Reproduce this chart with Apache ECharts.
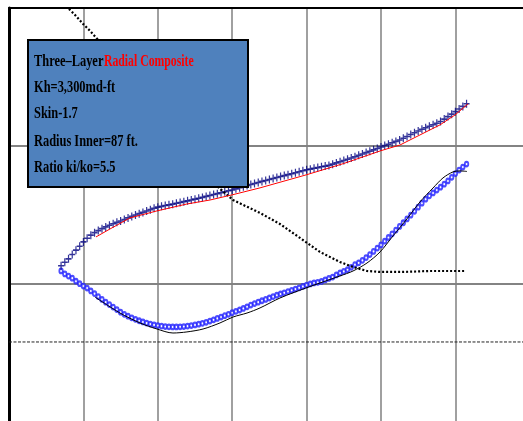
<!DOCTYPE html>
<html><head><meta charset="utf-8">
<script src="https://cdn.jsdelivr.net/npm/echarts@6/dist/echarts.min.js"></script>
<style>html,body{margin:0;padding:0;background:#fff;overflow:hidden}#c{width:523px;height:421px}</style>
</head><body><div id="c"></div>
<script>
// x positions (log cycles) shared by the two measured series
const logTime = [
  0.70,0.75,0.80,0.85,0.90,0.95,
  1.00,1.05,1.10,1.15,1.20,1.25,1.30,1.35,1.40,1.45,1.50,1.55,1.60,1.65,1.70,1.75,1.80,1.85,1.90,1.95,
  2.00,2.05,2.10,2.15,2.20,2.25,2.30,2.35,2.40,2.45,2.50,2.55,2.60,2.65,2.70,2.75,2.80,2.85,2.90,2.95,
  3.00,3.05,3.10,3.15,3.20,3.25,3.30,3.35,3.40,3.45,3.50,3.55,3.60,3.65,3.70,3.75,3.80,3.85,3.90,3.95,
  4.00,4.05,4.10,4.15,4.20,4.25,4.30,4.35,4.40,4.45,4.50,4.55,4.60,4.65,4.70,4.75,4.80,4.85,4.90,4.95,
  5.00,5.05,5.10,5.15,5.20,5.25,5.30,5.35,5.40,5.45,5.50,5.55,5.60,5.65,5.70,5.75,5.80,5.85,5.90,5.95,
  6.00,6.05,6.10,6.15
];
// measured pressure change ("+" markers)
const pressureChange = [
  1.130,1.155,1.180,1.212,1.243,1.271,
  1.303,1.330,1.352,1.370,1.385,1.399,1.412,1.424,1.435,1.445,1.455,1.466,1.477,1.488,1.498,1.508,1.517,1.527,1.537,1.547,
  1.555,1.561,1.567,1.572,1.577,1.583,1.589,1.595,1.601,1.607,1.613,1.620,1.626,1.633,1.640,1.647,1.653,1.660,1.667,1.674,
  1.680,1.688,1.696,1.704,1.712,1.719,1.727,1.734,1.742,1.749,1.756,1.763,1.770,1.777,1.784,1.791,1.798,1.805,1.812,1.819,
  1.826,1.831,1.837,1.842,1.848,1.853,1.858,1.867,1.876,1.885,1.894,1.903,1.912,1.921,1.931,1.941,1.951,1.961,1.971,1.981,
  1.992,2.002,2.012,2.022,2.032,2.042,2.055,2.068,2.082,2.095,2.108,2.120,2.131,2.142,2.153,2.164,2.176,2.194,2.212,2.230,
  2.248,2.267,2.286,2.305
];
// measured derivative ("o" markers)
const pressureDerivative = [
  1.092,1.071,1.055,1.040,1.018,1.000,
  0.983,0.968,0.947,0.928,0.906,0.886,0.866,0.848,0.830,0.812,0.793,0.778,0.764,0.752,0.741,0.731,0.722,0.714,0.707,0.701,
  0.696,0.692,0.689,0.687,0.686,0.686,0.687,0.689,0.692,0.696,0.701,0.706,0.712,0.720,0.729,0.738,0.748,0.758,0.768,0.778,
  0.789,0.799,0.809,0.820,0.832,0.845,0.856,0.866,0.876,0.886,0.896,0.906,0.916,0.925,0.934,0.943,0.952,0.961,0.970,0.980,
  0.990,0.998,1.005,1.010,1.016,1.027,1.038,1.048,1.063,1.078,1.089,1.101,1.119,1.138,1.151,1.169,1.189,1.211,1.234,1.258,
  1.281,1.308,1.335,1.362,1.389,1.415,1.442,1.470,1.497,1.525,1.555,1.584,1.613,1.637,1.658,1.679,1.700,1.722,1.745,1.772,
  1.799,1.824,1.846,1.868
];
// model pressure (red line)
const modelPressure = [
  [1.169,1.339],[1.358,1.397],[1.626,1.477],[1.989,1.528],[2.392,1.578],[2.702,1.607],[2.997,1.644],
  [3.374,1.695],[3.992,1.789],[4.500,1.872],[5.000,1.965],[5.255,2.006],[5.524,2.079],[5.793,2.152],
  [5.995,2.224],[6.169,2.304]
];
// model derivative (thin black line)
const modelDerivative = [
  [1.156,0.903],[1.492,0.787],[1.761,0.715],[1.989,0.671],[2.204,0.642],[2.392,0.650],[2.608,0.671],
  [2.836,0.715],[3.011,0.758],[3.199,0.787],[3.374,0.824],[3.642,0.896],[3.992,0.969],[4.180,1.005],
  [4.449,1.056],[4.624,1.092],[4.812,1.150],[4.987,1.230],[5.161,1.346],[5.349,1.470],[5.524,1.593],
  [5.699,1.694],[5.833,1.767],[5.968,1.811],[6.062,1.818],[6.156,1.814]
];
// dotted black curve
const dottedCurve = [
  [0.685,3.051],[0.793,3.000],[0.887,2.950],[0.995,2.885],[1.089,2.834],[1.196,2.769],[1.492,2.580],
  [1.895,2.319],[2.298,2.028],[2.702,1.752],[3.011,1.607],[3.374,1.513],[3.642,1.433],[3.911,1.332],
  [4.180,1.230],[4.449,1.157],[4.624,1.121],[4.812,1.092],[4.987,1.085],[5.296,1.085],[5.659,1.092],
  [6.129,1.092]
];
// horizontal dotted reference level
const refLevel = [[0,0.577],[7,0.577]];
const xRange = [0,7];
const yRange = [0,3];
const titleParts = ['Three–Layer', 'Radial Composite'];
const infoLines = ['Kh=3,300md-ft', 'Skin-1.7', 'Radius Inner=87 ft.', 'Ratio ki/ko=5.5'];

const chart = echarts.init(document.getElementById('c'), null, {renderer:'canvas'});
const pair = (xs, ys) => xs.map((x,i)=>[x, ys[i]]);
const plus = 'path://M4,0h2v4h4v2h-4v4h-2v-4h-4v-2h4z';
const font = 'bold 17px "Liberation Serif", "Times New Roman", serif';
const lineY = [88, 114, 142, 168];

const graphic = [
  {type:'rect', z:100, shape:{x:28,y:40,width:220,height:147}, style:{fill:'#4f81bd', stroke:'#000', lineWidth:2}},
  {type:'text', z:101, x:34, y:62, scaleX:0.73, style:{text:titleParts[0], fill:'#000', font:font, verticalAlign:'middle'}},
  {type:'text', z:101, x:104, y:62, scaleX:0.69, style:{text:titleParts[1], fill:'#ff0000', font:font, verticalAlign:'middle'}}
];
infoLines.forEach((t,i)=>{
  graphic.push({type:'text', z:101, x:34, y:lineY[i], scaleX:0.73, style:{text:t, fill:'#000', font:font, verticalAlign:'middle'}});
});

chart.setOption({
  animation:false,
  grid:{left:9, top:8, width:520.8, height:413.5, containLabel:false, outerBoundsMode:'none'},
  xAxis:{type:'value', position:'top', min:xRange[0], max:xRange[1], interval:1,
    axisLine:{show:true, onZero:false, lineStyle:{color:'#000', width:2}},
    axisTick:{show:false}, axisLabel:{show:false},
    splitLine:{show:true, lineStyle:{color:'#808080', width:1.5}}},
  yAxis:{type:'value', min:yRange[0], max:yRange[1], interval:1,
    axisLine:{show:true, onZero:false, lineStyle:{color:'#000', width:3}},
    axisTick:{show:false}, axisLabel:{show:false},
    splitLine:{show:true, lineStyle:{color:'#5a5a5a', width:1.5}}},
  series:[
    {type:'line', data:refLevel, symbol:'none', silent:true, lineStyle:{color:'#222', width:1, type:[3,1.5]}},
    {type:'line', data:dottedCurve, symbol:'none', silent:true, lineStyle:{color:'#000', width:2.2, type:[2,2]}},
    {type:'line', data:modelDerivative, symbol:'none', smooth:0.3, silent:true, lineStyle:{color:'#000', width:1}},
    {type:'scatter', data:pair(logTime, pressureDerivative), symbol:'emptyCircle', symbolSize:[3.5,4.5], silent:true,
      itemStyle:{color:'#2020ff', borderColor:'#2020ff', borderWidth:1.1}},
    {type:'scatter', data:pair(logTime, pressureChange), symbol:plus, symbolSize:[6,8], silent:true,
      itemStyle:{color:'#000080'}},
    {type:'line', data:modelPressure, symbol:'none', silent:true, lineStyle:{color:'#ff0000', width:1}}
  ],
  graphic:graphic
});
</script></body></html>
